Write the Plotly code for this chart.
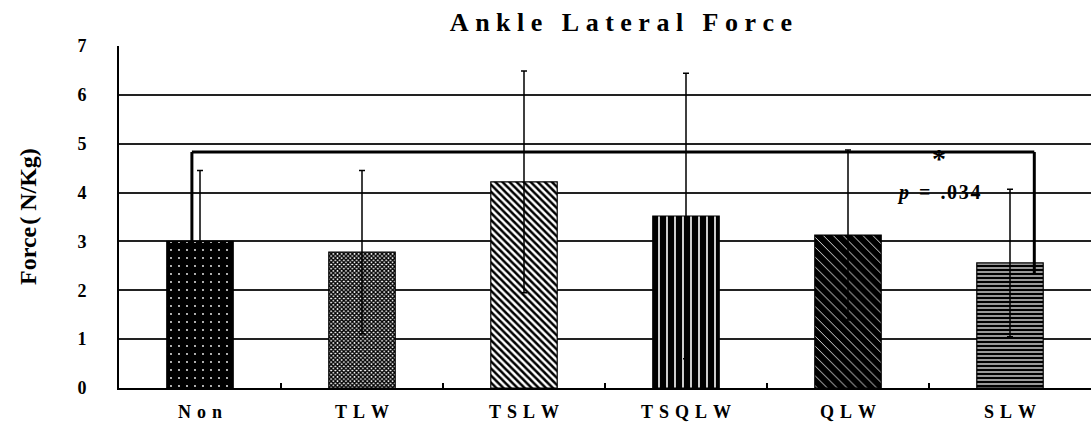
import plotly.graph_objects as go

categories = ["Non", "TLW", "TSLW", "TSQLW", "QLW", "SLW"]
means = [3.00, 2.78, 4.22, 3.52, 3.13, 2.56]
sds = [1.45, 1.67, 2.27, 2.92, 1.74, 1.51]
y_ticks = [0, 1, 2, 3, 4, 5, 6, 7]
bracket_height = 4.83
bracket_drop_right = 2.35
p_text = "p"
p_value = ".034"

pattern_shapes = [".", "x", "\\", "|", "\\", "-"]
pattern_fg = ["white", "black", "black", "white", "white", "white"]
pattern_bg = ["black", "white", "white", "black", "black", "black"]
pattern_size = [8, 3, 5, 8, 7, 4]
pattern_sol = [0.04, 0.7, 0.5, 0.2, 0.12, 0.3]

def spaced(s, sep="\u2009"):
    return sep.join(list(s))

FONT = "Liberation Serif"

fig = go.Figure()
for i, c in enumerate(categories):
    fig.add_trace(go.Bar(
        x=[c], y=[means[i]],
        width=0.41,
        marker=dict(
            color=pattern_bg[i],
            line=dict(color="black", width=1.2),
            pattern=dict(shape=pattern_shapes[i], fgcolor=pattern_fg[i],
                         bgcolor=pattern_bg[i], size=pattern_size[i],
                         solidity=pattern_sol[i], fillmode="replace"),
        ),
        error_y=dict(type="data", array=[sds[i]], visible=True,
                     color="black", thickness=1.5, width=3),
        showlegend=False,
    ))

# significance bracket (Non -> SLW)
xl = 0 - 0.05
xr = len(categories) - 1 + 0.15
line_style = dict(color="black", width=3)
fig.add_shape(type="line", x0=xl, x1=xl, y0=means[0], y1=bracket_height,
              xref="x", yref="y", line=line_style, layer="above")
fig.add_shape(type="line", x0=xl, x1=xr, y0=bracket_height, y1=bracket_height,
              xref="x", yref="y", line=line_style, layer="above")
fig.add_shape(type="line", x0=xr, x1=xr, y0=bracket_height, y1=bracket_drop_right,
              xref="x", yref="y", line=line_style, layer="above")

fig.add_annotation(x=len(categories) - 1 - 0.44, y=bracket_height - 0.14, xref="x", yref="y",
                   text="<b>*</b>", showarrow=False,
                   font=dict(family=FONT, size=28, color="black"))
fig.add_annotation(x=len(categories) - 1 - 0.44, y=bracket_height - 0.83, xref="x", yref="y",
                   text="<b><i>" + p_text + "</i>\u2002=\u2002" + spaced(p_value, "\u200a") + "</b>",
                   showarrow=False,
                   font=dict(family=FONT, size=20, color="black"))

# y-axis title as annotation
fig.add_annotation(x=-91 / 972, y=0.5, xref="paper", yref="paper",
                   text="<b>Force\u200a( N/Kg)</b>", textangle=-90, showarrow=False,
                   xanchor="center", yanchor="middle",
                   font=dict(family=FONT, size=24, color="black"))

fig.update_layout(
    width=1091, height=423,
    margin=dict(l=119, r=0, t=46, b=35),
    paper_bgcolor="white", plot_bgcolor="white",
    title=dict(text="<b>" + "\u2002\u2005".join(spaced(w, "\u2005") for w in "Ankle Lateral Force".split()) + "</b>",
               x=621 / 1091, xanchor="center", y=1 - 22 / 423, yanchor="middle",
               font=dict(family=FONT, size=26, color="black")),
    bargap=0.59,
    xaxis=dict(
        type="category", range=[-0.5, 5.5],
        tickmode="array", tickvals=categories,
        ticktext=["<b>" + spaced(c, "\u2004") + "</b>" for c in categories],
        tickfont=dict(family=FONT, size=18, color="black"),
        showline=True, linecolor="black", linewidth=2,
        ticks="inside", tickson="boundaries", ticklen=5, tickcolor="black", tickwidth=1.5,
        showgrid=False, zeroline=False,
        ticklabelstandoff=6,
    ),
    yaxis=dict(
        range=[0, 7], tickvals=y_ticks,
        ticktext=["<b>%d</b>" % v for v in y_ticks],
        tickfont=dict(family=FONT, size=18, color="black"),
        showline=True, linecolor="black", linewidth=2,
        showgrid=True, gridcolor="#222222", gridwidth=1.5,
        zeroline=False, ticks="", ticklabelstandoff=27,
    ),
)

fig.write_html("out.html")
